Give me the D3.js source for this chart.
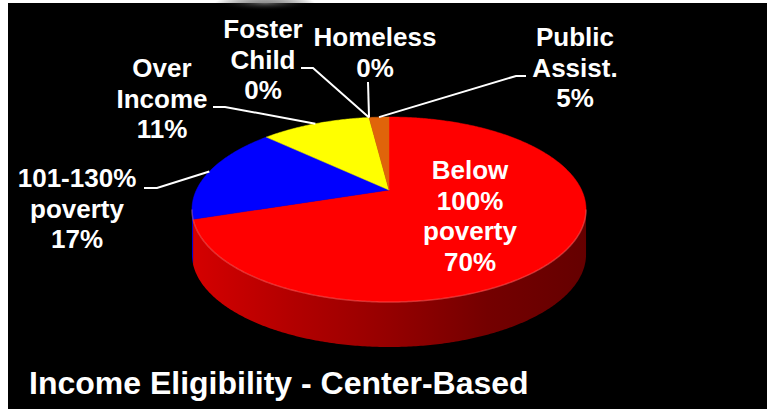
<!DOCTYPE html>
<html>
<head>
<meta charset="utf-8">
<script src="https://cdn.jsdelivr.net/npm/d3@7"></script>
<style>
  html, body { margin: 0; padding: 0; background: #fff; }
  svg { display: block; }
  text { font-family: "Liberation Sans", Arial, sans-serif; font-weight: bold; fill: #fff; }
</style>
</head>
<body>
<div id="chart"></div>
<script>
'use strict';

// slice order runs clockwise from 12 o'clock
var categories = [['Below', '100%', 'poverty'], ['101-130%', 'poverty'], ['Over', 'Income'], ['Foster', 'Child'], ['Homeless'], ['Public', 'Assist.']];
var shares = [70, 17, 11, 0, 0, 2];          // slice sizes as drawn
var pctLabels = ['70%', '17%', '11%', '0%', '0%', '5%'];
var colors = ['#ff0000', '#0000ff', '#ffff00', '#ff0000', '#ff0000', '#e0640a'];
var title = 'Income Eligibility - Center-Based';

var width = 767, height = 412;

// label placement (line centre of first line) and leader elbows
var labelLayout = [
  {x: 470, y: 170, leader: null},
  {x: 77, y: 178, leader: [[144, 188], [157, 188]]},
  {x: 162, y: 68, leader: [[213, 107], [225, 107]]},
  {x: 263, y: 29, leader: [[301, 68], [313, 68]]},
  {x: 375, y: 37, leader: [[368, 82]]},
  {x: 575, y: 37, leader: [[526, 76], [516, 76]]}
];
var lineGap = 30.5;

// tilted disc seen in perspective
var cx = 389, cy = 190, A = 192.6, B = 88.4, k = 0.211, depth = 45;

function proj(a, dz) {
  var u = Math.sin(a), v = Math.cos(a), w = 1 + k * v;
  return [cx + A * u / w, cy - B * v / w + (dz || 0)];
}

function rim(a0, a1, dz) {
  var n = Math.max(2, Math.ceil((a1 - a0) / 0.01));
  return d3.range(n + 1).map(function(i) { return proj(a0 + (a1 - a0) * i / n, dz); });
}

var svg = d3.select('#chart').append('svg')
  .attr('width', width)
  .attr('height', height);

var defs = svg.append('defs');

svg.append('rect').attr('width', width).attr('height', height).attr('fill', '#fff');
svg.append('rect')
  .attr('x', 8).attr('y', 3)
  .attr('width', width - 8).attr('height', 406)
  .attr('fill', '#000');

// faint glow at the top edge
var glow = defs.append('radialGradient').attr('id', 'glow');
glow.append('stop').attr('offset', 0).attr('stop-color', '#777').attr('stop-opacity', 0.8);
glow.append('stop').attr('offset', 1).attr('stop-color', '#000').attr('stop-opacity', 0);
svg.append('ellipse')
  .attr('cx', 265).attr('cy', 3).attr('rx', 50).attr('ry', 8)
  .attr('fill', 'url(#glow)');

var pie = d3.pie().sort(null).value(function(d) { return d; })
  .startAngle(0).endAngle(2 * Math.PI);
var arcs = pie(shares);

// side walls, only the front facing part
var aL = Math.acos(-k), aR = 2 * Math.PI - aL;
var line = d3.line();

arcs.forEach(function(d, i) {
  var s = Math.max(d.startAngle, aL), e = Math.min(d.endAngle, aR);
  if (s >= e) return;
  var c = d3.color(colors[i]);
  var g = defs.append('linearGradient')
    .attr('id', 'side' + i)
    .attr('gradientUnits', 'userSpaceOnUse')
    .attr('x1', cx - A * 1.023).attr('x2', cx + A * 1.023)
    .attr('y1', 0).attr('y2', 0);
  [[0, 0.5], [0.25, 1.0], [0.5, 1.5], [0.75, 2.2], [1, 2.6]].forEach(function(st) {
    g.append('stop').attr('offset', st[0]).attr('stop-color', c.darker(st[1]).formatHex());
  });
  var pts = rim(s, e, 0).concat(rim(s, e, depth).reverse());
  svg.append('path')
    .attr('d', line(pts) + 'Z')
    .attr('fill', 'url(#side' + i + ')');
});

// top faces
arcs.forEach(function(d, i) {
  if (d.endAngle - d.startAngle <= 0) return;
  var pts = [[cx, cy]].concat(rim(d.startAngle, d.endAngle, 0));
  svg.append('path')
    .attr('d', line(pts) + 'Z')
    .attr('fill', colors[i])
    .attr('stroke', colors[i])
    .attr('stroke-width', 0.5);
});

// soft highlight on the front rim
svg.append('path')
  .attr('d', line(rim(aL, aR, 0)))
  .attr('fill', 'none')
  .attr('stroke', 'rgba(255,140,140,0.35)')
  .attr('stroke-width', 1.5);

// leader lines
arcs.forEach(function(d, i) {
  var lay = labelLayout[i];
  if (!lay.leader) return;
  var mid = (d.startAngle + d.endAngle) / 2;
  svg.append('path')
    .attr('d', line(lay.leader.concat([proj(mid, 0)])))
    .attr('fill', 'none')
    .attr('stroke', '#fff')
    .attr('stroke-width', 2);
});

// labels
arcs.forEach(function(d, i) {
  var lay = labelLayout[i];
  var lines = categories[i].concat([pctLabels[i]]);
  var t = svg.append('text')
    .attr('text-anchor', 'middle')
    .style('font-size', '26px');
  lines.forEach(function(s, j) {
    t.append('tspan')
      .attr('x', lay.x)
      .attr('y', lay.y + j * lineGap)
      .attr('dy', '0.36em')
      .text(s);
  });
});

svg.append('text')
  .attr('x', 29)
  .attr('y', 394)
  .style('font-size', '32px')
  .text(title);
</script>
</body>
</html>
